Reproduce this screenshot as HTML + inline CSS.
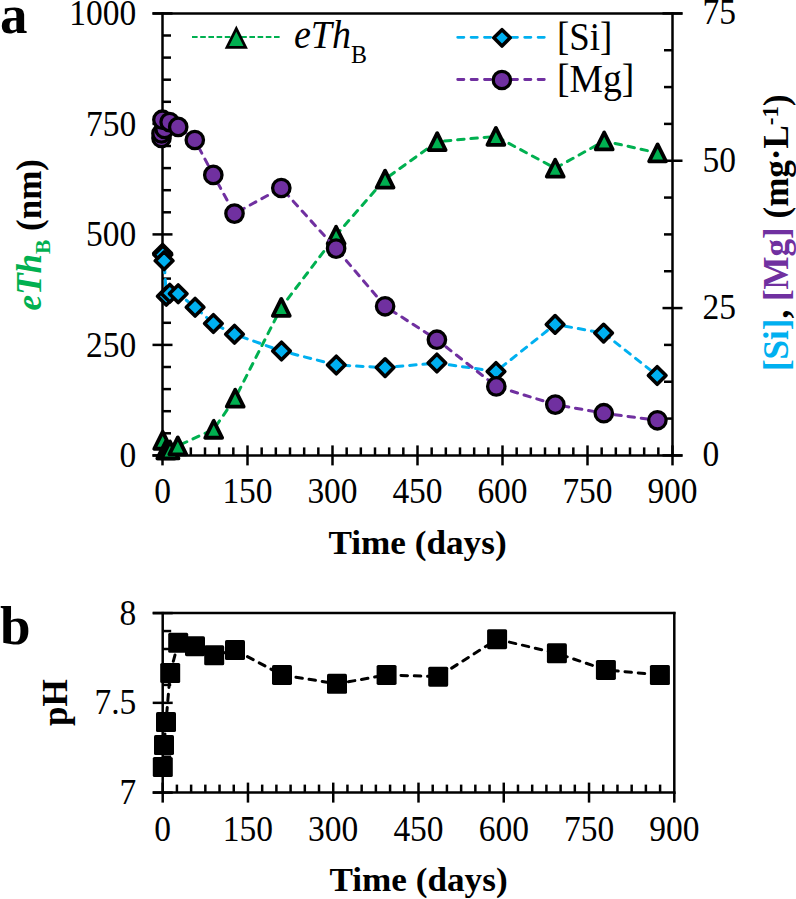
<!DOCTYPE html>
<html><head><meta charset="utf-8"><style>
html,body{margin:0;padding:0;background:#fff;}
svg{display:block;}
text{font-family:'Liberation Serif', serif;}
</style></head><body>
<svg width="796" height="899" viewBox="0 0 796 899" font-family="Liberation Serif, serif">
<line x1="162.50" y1="12.20" x2="162.50" y2="456.60" stroke="#000" stroke-width="2.5"/>
<line x1="672.50" y1="12.20" x2="672.50" y2="456.60" stroke="#000" stroke-width="2.5"/>
<line x1="152.50" y1="13.40" x2="682.50" y2="13.40" stroke="#000" stroke-width="2.5"/>
<line x1="152.50" y1="455.40" x2="682.50" y2="455.40" stroke="#000" stroke-width="2.5"/>
<line x1="152.50" y1="455.40" x2="172.50" y2="455.40" stroke="#000" stroke-width="2.5"/>
<line x1="162.50" y1="433.30" x2="171.00" y2="433.30" stroke="#000" stroke-width="2.5"/>
<line x1="162.50" y1="411.20" x2="171.00" y2="411.20" stroke="#000" stroke-width="2.5"/>
<line x1="162.50" y1="389.10" x2="171.00" y2="389.10" stroke="#000" stroke-width="2.5"/>
<line x1="162.50" y1="367.00" x2="171.00" y2="367.00" stroke="#000" stroke-width="2.5"/>
<line x1="152.50" y1="344.90" x2="172.50" y2="344.90" stroke="#000" stroke-width="2.5"/>
<line x1="162.50" y1="322.80" x2="171.00" y2="322.80" stroke="#000" stroke-width="2.5"/>
<line x1="162.50" y1="300.70" x2="171.00" y2="300.70" stroke="#000" stroke-width="2.5"/>
<line x1="162.50" y1="278.60" x2="171.00" y2="278.60" stroke="#000" stroke-width="2.5"/>
<line x1="162.50" y1="256.50" x2="171.00" y2="256.50" stroke="#000" stroke-width="2.5"/>
<line x1="152.50" y1="234.40" x2="172.50" y2="234.40" stroke="#000" stroke-width="2.5"/>
<line x1="162.50" y1="212.30" x2="171.00" y2="212.30" stroke="#000" stroke-width="2.5"/>
<line x1="162.50" y1="190.20" x2="171.00" y2="190.20" stroke="#000" stroke-width="2.5"/>
<line x1="162.50" y1="168.10" x2="171.00" y2="168.10" stroke="#000" stroke-width="2.5"/>
<line x1="162.50" y1="146.00" x2="171.00" y2="146.00" stroke="#000" stroke-width="2.5"/>
<line x1="152.50" y1="123.90" x2="172.50" y2="123.90" stroke="#000" stroke-width="2.5"/>
<line x1="162.50" y1="101.80" x2="171.00" y2="101.80" stroke="#000" stroke-width="2.5"/>
<line x1="162.50" y1="79.70" x2="171.00" y2="79.70" stroke="#000" stroke-width="2.5"/>
<line x1="162.50" y1="57.60" x2="171.00" y2="57.60" stroke="#000" stroke-width="2.5"/>
<line x1="162.50" y1="35.50" x2="171.00" y2="35.50" stroke="#000" stroke-width="2.5"/>
<line x1="152.50" y1="13.40" x2="172.50" y2="13.40" stroke="#000" stroke-width="2.5"/>
<line x1="662.50" y1="455.40" x2="682.50" y2="455.40" stroke="#000" stroke-width="2.5"/>
<line x1="664.00" y1="418.57" x2="672.50" y2="418.57" stroke="#000" stroke-width="2.5"/>
<line x1="664.00" y1="381.73" x2="672.50" y2="381.73" stroke="#000" stroke-width="2.5"/>
<line x1="664.00" y1="344.90" x2="672.50" y2="344.90" stroke="#000" stroke-width="2.5"/>
<line x1="662.50" y1="308.07" x2="682.50" y2="308.07" stroke="#000" stroke-width="2.5"/>
<line x1="664.00" y1="271.23" x2="672.50" y2="271.23" stroke="#000" stroke-width="2.5"/>
<line x1="664.00" y1="234.40" x2="672.50" y2="234.40" stroke="#000" stroke-width="2.5"/>
<line x1="664.00" y1="197.57" x2="672.50" y2="197.57" stroke="#000" stroke-width="2.5"/>
<line x1="662.50" y1="160.73" x2="682.50" y2="160.73" stroke="#000" stroke-width="2.5"/>
<line x1="664.00" y1="123.90" x2="672.50" y2="123.90" stroke="#000" stroke-width="2.5"/>
<line x1="664.00" y1="87.07" x2="672.50" y2="87.07" stroke="#000" stroke-width="2.5"/>
<line x1="664.00" y1="50.23" x2="672.50" y2="50.23" stroke="#000" stroke-width="2.5"/>
<line x1="662.50" y1="13.40" x2="682.50" y2="13.40" stroke="#000" stroke-width="2.5"/>
<line x1="162.50" y1="445.40" x2="162.50" y2="465.40" stroke="#000" stroke-width="2.5"/>
<line x1="176.67" y1="447.40" x2="176.67" y2="455.40" stroke="#000" stroke-width="2.5"/>
<line x1="190.83" y1="447.40" x2="190.83" y2="455.40" stroke="#000" stroke-width="2.5"/>
<line x1="205.00" y1="447.40" x2="205.00" y2="455.40" stroke="#000" stroke-width="2.5"/>
<line x1="219.17" y1="447.40" x2="219.17" y2="455.40" stroke="#000" stroke-width="2.5"/>
<line x1="233.33" y1="447.40" x2="233.33" y2="455.40" stroke="#000" stroke-width="2.5"/>
<line x1="247.50" y1="445.40" x2="247.50" y2="465.40" stroke="#000" stroke-width="2.5"/>
<line x1="261.67" y1="447.40" x2="261.67" y2="455.40" stroke="#000" stroke-width="2.5"/>
<line x1="275.83" y1="447.40" x2="275.83" y2="455.40" stroke="#000" stroke-width="2.5"/>
<line x1="290.00" y1="447.40" x2="290.00" y2="455.40" stroke="#000" stroke-width="2.5"/>
<line x1="304.17" y1="447.40" x2="304.17" y2="455.40" stroke="#000" stroke-width="2.5"/>
<line x1="318.33" y1="447.40" x2="318.33" y2="455.40" stroke="#000" stroke-width="2.5"/>
<line x1="332.50" y1="445.40" x2="332.50" y2="465.40" stroke="#000" stroke-width="2.5"/>
<line x1="346.67" y1="447.40" x2="346.67" y2="455.40" stroke="#000" stroke-width="2.5"/>
<line x1="360.83" y1="447.40" x2="360.83" y2="455.40" stroke="#000" stroke-width="2.5"/>
<line x1="375.00" y1="447.40" x2="375.00" y2="455.40" stroke="#000" stroke-width="2.5"/>
<line x1="389.17" y1="447.40" x2="389.17" y2="455.40" stroke="#000" stroke-width="2.5"/>
<line x1="403.33" y1="447.40" x2="403.33" y2="455.40" stroke="#000" stroke-width="2.5"/>
<line x1="417.50" y1="445.40" x2="417.50" y2="465.40" stroke="#000" stroke-width="2.5"/>
<line x1="431.67" y1="447.40" x2="431.67" y2="455.40" stroke="#000" stroke-width="2.5"/>
<line x1="445.83" y1="447.40" x2="445.83" y2="455.40" stroke="#000" stroke-width="2.5"/>
<line x1="460.00" y1="447.40" x2="460.00" y2="455.40" stroke="#000" stroke-width="2.5"/>
<line x1="474.17" y1="447.40" x2="474.17" y2="455.40" stroke="#000" stroke-width="2.5"/>
<line x1="488.33" y1="447.40" x2="488.33" y2="455.40" stroke="#000" stroke-width="2.5"/>
<line x1="502.50" y1="445.40" x2="502.50" y2="465.40" stroke="#000" stroke-width="2.5"/>
<line x1="516.67" y1="447.40" x2="516.67" y2="455.40" stroke="#000" stroke-width="2.5"/>
<line x1="530.83" y1="447.40" x2="530.83" y2="455.40" stroke="#000" stroke-width="2.5"/>
<line x1="545.00" y1="447.40" x2="545.00" y2="455.40" stroke="#000" stroke-width="2.5"/>
<line x1="559.17" y1="447.40" x2="559.17" y2="455.40" stroke="#000" stroke-width="2.5"/>
<line x1="573.33" y1="447.40" x2="573.33" y2="455.40" stroke="#000" stroke-width="2.5"/>
<line x1="587.50" y1="445.40" x2="587.50" y2="465.40" stroke="#000" stroke-width="2.5"/>
<line x1="601.67" y1="447.40" x2="601.67" y2="455.40" stroke="#000" stroke-width="2.5"/>
<line x1="615.83" y1="447.40" x2="615.83" y2="455.40" stroke="#000" stroke-width="2.5"/>
<line x1="630.00" y1="447.40" x2="630.00" y2="455.40" stroke="#000" stroke-width="2.5"/>
<line x1="644.17" y1="447.40" x2="644.17" y2="455.40" stroke="#000" stroke-width="2.5"/>
<line x1="658.33" y1="447.40" x2="658.33" y2="455.40" stroke="#000" stroke-width="2.5"/>
<line x1="672.50" y1="445.40" x2="672.50" y2="465.40" stroke="#000" stroke-width="2.5"/>
<text transform="translate(136.30,467.00) scale(1.0,1.075)" font-size="33.5" text-anchor="end" font-weight="normal" font-style="normal" fill="#000" >0</text>
<text transform="translate(136.30,356.50) scale(1.0,1.075)" font-size="33.5" text-anchor="end" font-weight="normal" font-style="normal" fill="#000" >250</text>
<text transform="translate(136.30,246.00) scale(1.0,1.075)" font-size="33.5" text-anchor="end" font-weight="normal" font-style="normal" fill="#000" >500</text>
<text transform="translate(136.30,135.50) scale(1.0,1.075)" font-size="33.5" text-anchor="end" font-weight="normal" font-style="normal" fill="#000" >750</text>
<text transform="translate(136.30,25.00) scale(1.0,1.075)" font-size="33.5" text-anchor="end" font-weight="normal" font-style="normal" fill="#000" >1000</text>
<text transform="translate(702.50,466.40) scale(1.0,1.075)" font-size="33.5" text-anchor="start" font-weight="normal" font-style="normal" fill="#000" >0</text>
<text transform="translate(702.50,319.07) scale(1.0,1.075)" font-size="33.5" text-anchor="start" font-weight="normal" font-style="normal" fill="#000" >25</text>
<text transform="translate(702.50,171.73) scale(1.0,1.075)" font-size="33.5" text-anchor="start" font-weight="normal" font-style="normal" fill="#000" >50</text>
<text transform="translate(702.50,24.40) scale(1.0,1.075)" font-size="33.5" text-anchor="start" font-weight="normal" font-style="normal" fill="#000" >75</text>
<text transform="translate(162.50,503.20) scale(1.0,1.075)" font-size="33.5" text-anchor="middle" font-weight="normal" font-style="normal" fill="#000" >0</text>
<text transform="translate(247.50,503.20) scale(1.0,1.075)" font-size="33.5" text-anchor="middle" font-weight="normal" font-style="normal" fill="#000" >150</text>
<text transform="translate(332.50,503.20) scale(1.0,1.075)" font-size="33.5" text-anchor="middle" font-weight="normal" font-style="normal" fill="#000" >300</text>
<text transform="translate(417.50,503.20) scale(1.0,1.075)" font-size="33.5" text-anchor="middle" font-weight="normal" font-style="normal" fill="#000" >450</text>
<text transform="translate(502.50,503.20) scale(1.0,1.075)" font-size="33.5" text-anchor="middle" font-weight="normal" font-style="normal" fill="#000" >600</text>
<text transform="translate(587.50,503.20) scale(1.0,1.075)" font-size="33.5" text-anchor="middle" font-weight="normal" font-style="normal" fill="#000" >750</text>
<text transform="translate(672.50,503.20) scale(1.0,1.075)" font-size="33.5" text-anchor="middle" font-weight="normal" font-style="normal" fill="#000" >900</text>
<text transform="translate(417.50,553.50) scale(1.035,1.0)" font-size="34" text-anchor="middle" font-weight="bold" font-style="normal" fill="#000" >Time (days)</text>
<text transform="translate(40.8,234.7) rotate(-90)" font-size="35" text-anchor="middle" font-weight="bold"><tspan fill="#00B050" font-style="italic">eTh</tspan><tspan fill="#00B050" font-size="21.5" dy="9">B</tspan><tspan dy="-9"> (nm)</tspan></text>
<text transform="translate(788.3,232.7) rotate(-90)" font-size="35" text-anchor="middle" font-weight="bold"><tspan fill="#00B0F0">[Si]</tspan><tspan>, </tspan><tspan fill="#7030A0">[Mg]</tspan><tspan> (mg·L</tspan><tspan font-size="23" dy="-10.7">-1</tspan><tspan dy="10.7">)</tspan></text>
<text transform="translate(0.00,33.00) scale(1.0,1.0)" font-size="55" text-anchor="start" font-weight="bold" font-style="normal" fill="#000" >a</text>
<text transform="translate(0.00,644.00) scale(1.0,1.0)" font-size="55" text-anchor="start" font-weight="bold" font-style="normal" fill="#000" >b</text>
<polyline points="162.7,440.3 165.8,450.0 166.6,450.0 170.0,450.0 177.8,445.9 213.7,429.3 235.2,398.2 281.3,307.4 336.1,235.2 385.1,179.1 437.2,141.6 495.9,136.4 555.2,168.2 604.2,141.0 657.6,152.9" fill="none" stroke="#00B050" stroke-width="3" stroke-dasharray="6.5 6.8" stroke-linecap="round"/>
<polygon points="162.70,431.85 154.25,448.75 171.15,448.75" fill="#00B050" stroke="#000" stroke-width="3.8" stroke-linejoin="round"/>
<polygon points="165.80,441.55 157.35,458.45 174.25,458.45" fill="#00B050" stroke="#000" stroke-width="3.8" stroke-linejoin="round"/>
<polygon points="166.60,441.55 158.15,458.45 175.05,458.45" fill="#00B050" stroke="#000" stroke-width="3.8" stroke-linejoin="round"/>
<polygon points="170.00,441.55 161.55,458.45 178.45,458.45" fill="#00B050" stroke="#000" stroke-width="3.8" stroke-linejoin="round"/>
<polygon points="177.80,437.45 169.35,454.35 186.25,454.35" fill="#00B050" stroke="#000" stroke-width="3.8" stroke-linejoin="round"/>
<polygon points="213.70,420.85 205.25,437.75 222.15,437.75" fill="#00B050" stroke="#000" stroke-width="3.8" stroke-linejoin="round"/>
<polygon points="235.20,389.75 226.75,406.65 243.65,406.65" fill="#00B050" stroke="#000" stroke-width="3.8" stroke-linejoin="round"/>
<polygon points="281.30,298.95 272.85,315.85 289.75,315.85" fill="#00B050" stroke="#000" stroke-width="3.8" stroke-linejoin="round"/>
<polygon points="336.10,226.75 327.65,243.65 344.55,243.65" fill="#00B050" stroke="#000" stroke-width="3.8" stroke-linejoin="round"/>
<polygon points="385.10,170.65 376.65,187.55 393.55,187.55" fill="#00B050" stroke="#000" stroke-width="3.8" stroke-linejoin="round"/>
<polygon points="437.20,133.15 428.75,150.05 445.65,150.05" fill="#00B050" stroke="#000" stroke-width="3.8" stroke-linejoin="round"/>
<polygon points="495.90,127.95 487.45,144.85 504.35,144.85" fill="#00B050" stroke="#000" stroke-width="3.8" stroke-linejoin="round"/>
<polygon points="555.20,159.75 546.75,176.65 563.65,176.65" fill="#00B050" stroke="#000" stroke-width="3.8" stroke-linejoin="round"/>
<polygon points="604.20,132.55 595.75,149.45 612.65,149.45" fill="#00B050" stroke="#000" stroke-width="3.8" stroke-linejoin="round"/>
<polygon points="657.60,144.45 649.15,161.35 666.05,161.35" fill="#00B050" stroke="#000" stroke-width="3.8" stroke-linejoin="round"/>
<polyline points="162.6,253.2 162.8,254.8 164.1,260.7 166.3,296.2 169.8,293.3 178.2,293.8 195.1,307.2 213.4,323.5 234.5,334.3 281.5,351.0 336.3,365.0 385.1,367.6 436.9,363.0 496.0,371.5 555.1,324.4 603.6,333.1 657.2,375.5" fill="none" stroke="#00B0F0" stroke-width="3" stroke-dasharray="6.5 6.8" stroke-linecap="round"/>
<polygon points="162.60,244.40 171.40,253.20 162.60,262.00 153.80,253.20" fill="#00B0F0" stroke="#000" stroke-width="3.6" stroke-linejoin="round"/>
<polygon points="162.80,246.00 171.60,254.80 162.80,263.60 154.00,254.80" fill="#00B0F0" stroke="#000" stroke-width="3.6" stroke-linejoin="round"/>
<polygon points="164.10,251.90 172.90,260.70 164.10,269.50 155.30,260.70" fill="#00B0F0" stroke="#000" stroke-width="3.6" stroke-linejoin="round"/>
<polygon points="166.30,287.40 175.10,296.20 166.30,305.00 157.50,296.20" fill="#00B0F0" stroke="#000" stroke-width="3.6" stroke-linejoin="round"/>
<polygon points="169.80,284.50 178.60,293.30 169.80,302.10 161.00,293.30" fill="#00B0F0" stroke="#000" stroke-width="3.6" stroke-linejoin="round"/>
<polygon points="178.20,285.00 187.00,293.80 178.20,302.60 169.40,293.80" fill="#00B0F0" stroke="#000" stroke-width="3.6" stroke-linejoin="round"/>
<polygon points="195.10,298.40 203.90,307.20 195.10,316.00 186.30,307.20" fill="#00B0F0" stroke="#000" stroke-width="3.6" stroke-linejoin="round"/>
<polygon points="213.40,314.70 222.20,323.50 213.40,332.30 204.60,323.50" fill="#00B0F0" stroke="#000" stroke-width="3.6" stroke-linejoin="round"/>
<polygon points="234.50,325.50 243.30,334.30 234.50,343.10 225.70,334.30" fill="#00B0F0" stroke="#000" stroke-width="3.6" stroke-linejoin="round"/>
<polygon points="281.50,342.20 290.30,351.00 281.50,359.80 272.70,351.00" fill="#00B0F0" stroke="#000" stroke-width="3.6" stroke-linejoin="round"/>
<polygon points="336.30,356.20 345.10,365.00 336.30,373.80 327.50,365.00" fill="#00B0F0" stroke="#000" stroke-width="3.6" stroke-linejoin="round"/>
<polygon points="385.10,358.80 393.90,367.60 385.10,376.40 376.30,367.60" fill="#00B0F0" stroke="#000" stroke-width="3.6" stroke-linejoin="round"/>
<polygon points="436.90,354.20 445.70,363.00 436.90,371.80 428.10,363.00" fill="#00B0F0" stroke="#000" stroke-width="3.6" stroke-linejoin="round"/>
<polygon points="496.00,362.70 504.80,371.50 496.00,380.30 487.20,371.50" fill="#00B0F0" stroke="#000" stroke-width="3.6" stroke-linejoin="round"/>
<polygon points="555.10,315.60 563.90,324.40 555.10,333.20 546.30,324.40" fill="#00B0F0" stroke="#000" stroke-width="3.6" stroke-linejoin="round"/>
<polygon points="603.60,324.30 612.40,333.10 603.60,341.90 594.80,333.10" fill="#00B0F0" stroke="#000" stroke-width="3.6" stroke-linejoin="round"/>
<polygon points="657.20,366.70 666.00,375.50 657.20,384.30 648.40,375.50" fill="#00B0F0" stroke="#000" stroke-width="3.6" stroke-linejoin="round"/>
<polyline points="161.5,138.0 161.5,133.5 164.6,129.0 162.4,119.7 169.6,122.1 178.2,126.9 194.8,140.0 213.3,174.9 234.5,213.6 281.3,188.0 336.1,248.6 385.1,306.3 436.9,339.7 496.3,386.4 555.3,404.6 603.8,413.2 657.4,420.3" fill="none" stroke="#7030A0" stroke-width="3" stroke-dasharray="6.5 6.8" stroke-linecap="round"/>
<circle cx="161.50" cy="138.00" r="8.70" fill="#7030A0" stroke="#000" stroke-width="3.3"/>
<circle cx="161.50" cy="133.50" r="8.70" fill="#7030A0" stroke="#000" stroke-width="3.3"/>
<circle cx="164.60" cy="129.00" r="8.70" fill="#7030A0" stroke="#000" stroke-width="3.3"/>
<circle cx="162.40" cy="119.70" r="8.70" fill="#7030A0" stroke="#000" stroke-width="3.3"/>
<circle cx="169.60" cy="122.10" r="8.70" fill="#7030A0" stroke="#000" stroke-width="3.3"/>
<circle cx="178.20" cy="126.90" r="8.70" fill="#7030A0" stroke="#000" stroke-width="3.3"/>
<circle cx="194.80" cy="140.00" r="8.70" fill="#7030A0" stroke="#000" stroke-width="3.3"/>
<circle cx="213.30" cy="174.90" r="8.70" fill="#7030A0" stroke="#000" stroke-width="3.3"/>
<circle cx="234.50" cy="213.60" r="8.70" fill="#7030A0" stroke="#000" stroke-width="3.3"/>
<circle cx="281.30" cy="188.00" r="8.70" fill="#7030A0" stroke="#000" stroke-width="3.3"/>
<circle cx="336.10" cy="248.60" r="8.70" fill="#7030A0" stroke="#000" stroke-width="3.3"/>
<circle cx="385.10" cy="306.30" r="8.70" fill="#7030A0" stroke="#000" stroke-width="3.3"/>
<circle cx="436.90" cy="339.70" r="8.70" fill="#7030A0" stroke="#000" stroke-width="3.3"/>
<circle cx="496.30" cy="386.40" r="8.70" fill="#7030A0" stroke="#000" stroke-width="3.3"/>
<circle cx="555.30" cy="404.60" r="8.70" fill="#7030A0" stroke="#000" stroke-width="3.3"/>
<circle cx="603.80" cy="413.20" r="8.70" fill="#7030A0" stroke="#000" stroke-width="3.3"/>
<circle cx="657.40" cy="420.30" r="8.70" fill="#7030A0" stroke="#000" stroke-width="3.3"/>
<line x1="192" y1="37.1" x2="280.8" y2="37.1" stroke="#00B050" stroke-width="2" stroke-dasharray="5.6 2.6"/>
<polygon points="236.3,28.6 226.9,47.4 245.7,47.4" fill="#00B050" stroke="#000" stroke-width="2.7" stroke-linejoin="miter"/>
<text transform="translate(294,47.8) scale(1,1.08)" font-size="38" font-style="italic">eTh<tspan font-style="normal" font-size="24" dy="14.1">B</tspan></text>
<line x1="457.7" y1="37.3" x2="546" y2="37.3" stroke="#00B0F0" stroke-width="2.8" stroke-dasharray="6.2 7.2" stroke-linecap="round"/>
<polygon points="502.00,29.67 510.18,37.85 502.00,46.03 493.82,37.85" fill="#00B0F0" stroke="#000" stroke-width="3.6" stroke-linejoin="round"/>
<text transform="translate(557.00,50.20) scale(0.97,1.075)" font-size="38" text-anchor="start" font-weight="normal" font-style="normal" fill="#000" >[Si]</text>
<line x1="457.7" y1="79.5" x2="546" y2="79.5" stroke="#7030A0" stroke-width="2.8" stroke-dasharray="6.2 7.2" stroke-linecap="round"/>
<circle cx="501.90" cy="80.00" r="8.70" fill="#7030A0" stroke="#000" stroke-width="3.3"/>
<text transform="translate(557.00,92.30) scale(0.99,1.075)" font-size="38" text-anchor="start" font-weight="normal" font-style="normal" fill="#000" >[Mg]</text>
<line x1="162.70" y1="611.90" x2="162.70" y2="793.80" stroke="#000" stroke-width="2.5"/>
<line x1="674.30" y1="611.90" x2="674.30" y2="793.80" stroke="#000" stroke-width="2.5"/>
<line x1="152.70" y1="613.10" x2="675.50" y2="613.10" stroke="#000" stroke-width="2.5"/>
<line x1="152.70" y1="792.60" x2="675.50" y2="792.60" stroke="#000" stroke-width="2.5"/>
<line x1="152.70" y1="792.60" x2="172.70" y2="792.60" stroke="#000" stroke-width="2.5"/>
<line x1="162.70" y1="774.65" x2="171.20" y2="774.65" stroke="#000" stroke-width="2.5"/>
<line x1="162.70" y1="756.70" x2="171.20" y2="756.70" stroke="#000" stroke-width="2.5"/>
<line x1="162.70" y1="738.75" x2="171.20" y2="738.75" stroke="#000" stroke-width="2.5"/>
<line x1="162.70" y1="720.80" x2="171.20" y2="720.80" stroke="#000" stroke-width="2.5"/>
<line x1="152.70" y1="702.85" x2="172.70" y2="702.85" stroke="#000" stroke-width="2.5"/>
<line x1="162.70" y1="684.90" x2="171.20" y2="684.90" stroke="#000" stroke-width="2.5"/>
<line x1="162.70" y1="666.95" x2="171.20" y2="666.95" stroke="#000" stroke-width="2.5"/>
<line x1="162.70" y1="649.00" x2="171.20" y2="649.00" stroke="#000" stroke-width="2.5"/>
<line x1="162.70" y1="631.05" x2="171.20" y2="631.05" stroke="#000" stroke-width="2.5"/>
<line x1="152.70" y1="613.10" x2="172.70" y2="613.10" stroke="#000" stroke-width="2.5"/>
<line x1="162.70" y1="782.60" x2="162.70" y2="802.60" stroke="#000" stroke-width="2.5"/>
<line x1="176.91" y1="784.60" x2="176.91" y2="792.60" stroke="#000" stroke-width="2.5"/>
<line x1="191.12" y1="784.60" x2="191.12" y2="792.60" stroke="#000" stroke-width="2.5"/>
<line x1="205.33" y1="784.60" x2="205.33" y2="792.60" stroke="#000" stroke-width="2.5"/>
<line x1="219.54" y1="784.60" x2="219.54" y2="792.60" stroke="#000" stroke-width="2.5"/>
<line x1="233.76" y1="784.60" x2="233.76" y2="792.60" stroke="#000" stroke-width="2.5"/>
<line x1="247.97" y1="782.60" x2="247.97" y2="802.60" stroke="#000" stroke-width="2.5"/>
<line x1="262.18" y1="784.60" x2="262.18" y2="792.60" stroke="#000" stroke-width="2.5"/>
<line x1="276.39" y1="784.60" x2="276.39" y2="792.60" stroke="#000" stroke-width="2.5"/>
<line x1="290.60" y1="784.60" x2="290.60" y2="792.60" stroke="#000" stroke-width="2.5"/>
<line x1="304.81" y1="784.60" x2="304.81" y2="792.60" stroke="#000" stroke-width="2.5"/>
<line x1="319.02" y1="784.60" x2="319.02" y2="792.60" stroke="#000" stroke-width="2.5"/>
<line x1="333.23" y1="782.60" x2="333.23" y2="802.60" stroke="#000" stroke-width="2.5"/>
<line x1="347.44" y1="784.60" x2="347.44" y2="792.60" stroke="#000" stroke-width="2.5"/>
<line x1="361.66" y1="784.60" x2="361.66" y2="792.60" stroke="#000" stroke-width="2.5"/>
<line x1="375.87" y1="784.60" x2="375.87" y2="792.60" stroke="#000" stroke-width="2.5"/>
<line x1="390.08" y1="784.60" x2="390.08" y2="792.60" stroke="#000" stroke-width="2.5"/>
<line x1="404.29" y1="784.60" x2="404.29" y2="792.60" stroke="#000" stroke-width="2.5"/>
<line x1="418.50" y1="782.60" x2="418.50" y2="802.60" stroke="#000" stroke-width="2.5"/>
<line x1="432.71" y1="784.60" x2="432.71" y2="792.60" stroke="#000" stroke-width="2.5"/>
<line x1="446.92" y1="784.60" x2="446.92" y2="792.60" stroke="#000" stroke-width="2.5"/>
<line x1="461.13" y1="784.60" x2="461.13" y2="792.60" stroke="#000" stroke-width="2.5"/>
<line x1="475.34" y1="784.60" x2="475.34" y2="792.60" stroke="#000" stroke-width="2.5"/>
<line x1="489.56" y1="784.60" x2="489.56" y2="792.60" stroke="#000" stroke-width="2.5"/>
<line x1="503.77" y1="782.60" x2="503.77" y2="802.60" stroke="#000" stroke-width="2.5"/>
<line x1="517.98" y1="784.60" x2="517.98" y2="792.60" stroke="#000" stroke-width="2.5"/>
<line x1="532.19" y1="784.60" x2="532.19" y2="792.60" stroke="#000" stroke-width="2.5"/>
<line x1="546.40" y1="784.60" x2="546.40" y2="792.60" stroke="#000" stroke-width="2.5"/>
<line x1="560.61" y1="784.60" x2="560.61" y2="792.60" stroke="#000" stroke-width="2.5"/>
<line x1="574.82" y1="784.60" x2="574.82" y2="792.60" stroke="#000" stroke-width="2.5"/>
<line x1="589.03" y1="782.60" x2="589.03" y2="802.60" stroke="#000" stroke-width="2.5"/>
<line x1="603.24" y1="784.60" x2="603.24" y2="792.60" stroke="#000" stroke-width="2.5"/>
<line x1="617.46" y1="784.60" x2="617.46" y2="792.60" stroke="#000" stroke-width="2.5"/>
<line x1="631.67" y1="784.60" x2="631.67" y2="792.60" stroke="#000" stroke-width="2.5"/>
<line x1="645.88" y1="784.60" x2="645.88" y2="792.60" stroke="#000" stroke-width="2.5"/>
<line x1="660.09" y1="784.60" x2="660.09" y2="792.60" stroke="#000" stroke-width="2.5"/>
<line x1="674.30" y1="792.60" x2="674.30" y2="802.60" stroke="#000" stroke-width="2.5"/>
<text transform="translate(136.30,804.20) scale(1.0,1.075)" font-size="33.5" text-anchor="end" font-weight="normal" font-style="normal" fill="#000" >7</text>
<text transform="translate(136.30,714.45) scale(1.0,1.075)" font-size="33.5" text-anchor="end" font-weight="normal" font-style="normal" fill="#000" >7.5</text>
<text transform="translate(136.30,624.70) scale(1.0,1.075)" font-size="33.5" text-anchor="end" font-weight="normal" font-style="normal" fill="#000" >8</text>
<text transform="translate(162.70,841.00) scale(1.0,1.075)" font-size="33.5" text-anchor="middle" font-weight="normal" font-style="normal" fill="#000" >0</text>
<text transform="translate(247.97,841.00) scale(1.0,1.075)" font-size="33.5" text-anchor="middle" font-weight="normal" font-style="normal" fill="#000" >150</text>
<text transform="translate(333.23,841.00) scale(1.0,1.075)" font-size="33.5" text-anchor="middle" font-weight="normal" font-style="normal" fill="#000" >300</text>
<text transform="translate(418.50,841.00) scale(1.0,1.075)" font-size="33.5" text-anchor="middle" font-weight="normal" font-style="normal" fill="#000" >450</text>
<text transform="translate(503.77,841.00) scale(1.0,1.075)" font-size="33.5" text-anchor="middle" font-weight="normal" font-style="normal" fill="#000" >600</text>
<text transform="translate(589.03,841.00) scale(1.0,1.075)" font-size="33.5" text-anchor="middle" font-weight="normal" font-style="normal" fill="#000" >750</text>
<text transform="translate(674.30,841.00) scale(1.0,1.075)" font-size="33.5" text-anchor="middle" font-weight="normal" font-style="normal" fill="#000" >900</text>
<text transform="translate(418.50,891.30) scale(1.035,1.0)" font-size="34" text-anchor="middle" font-weight="bold" font-style="normal" fill="#000" >Time (days)</text>
<text transform="translate(66.8,702.7) rotate(-90)" font-size="35" text-anchor="middle" font-weight="bold">pH</text>
<polyline points="162.8,767.0 164.0,745.0 166.0,722.0 170.2,673.0 178.2,642.8 195.0,646.2 214.2,655.3 235.0,650.0 282.0,674.9 337.0,683.8 386.6,674.9 438.2,676.7 497.1,639.2 556.9,653.3 605.9,669.9 659.9,675.0" fill="none" stroke="#000" stroke-width="3" stroke-dasharray="6.5 6.8" stroke-linecap="round"/>
<rect x="152.80" y="757.00" width="20" height="20" rx="1.6" fill="#000"/>
<rect x="154.00" y="735.00" width="20" height="20" rx="1.6" fill="#000"/>
<rect x="156.00" y="712.00" width="20" height="20" rx="1.6" fill="#000"/>
<rect x="160.20" y="663.00" width="20" height="20" rx="1.6" fill="#000"/>
<rect x="168.20" y="632.80" width="20" height="20" rx="1.6" fill="#000"/>
<rect x="185.00" y="636.20" width="20" height="20" rx="1.6" fill="#000"/>
<rect x="204.20" y="645.30" width="20" height="20" rx="1.6" fill="#000"/>
<rect x="225.00" y="640.00" width="20" height="20" rx="1.6" fill="#000"/>
<rect x="272.00" y="664.90" width="20" height="20" rx="1.6" fill="#000"/>
<rect x="327.00" y="673.80" width="20" height="20" rx="1.6" fill="#000"/>
<rect x="376.60" y="664.90" width="20" height="20" rx="1.6" fill="#000"/>
<rect x="428.20" y="666.70" width="20" height="20" rx="1.6" fill="#000"/>
<rect x="487.10" y="629.20" width="20" height="20" rx="1.6" fill="#000"/>
<rect x="546.90" y="643.30" width="20" height="20" rx="1.6" fill="#000"/>
<rect x="595.90" y="659.90" width="20" height="20" rx="1.6" fill="#000"/>
<rect x="649.90" y="665.00" width="20" height="20" rx="1.6" fill="#000"/>
</svg>
</body></html>
